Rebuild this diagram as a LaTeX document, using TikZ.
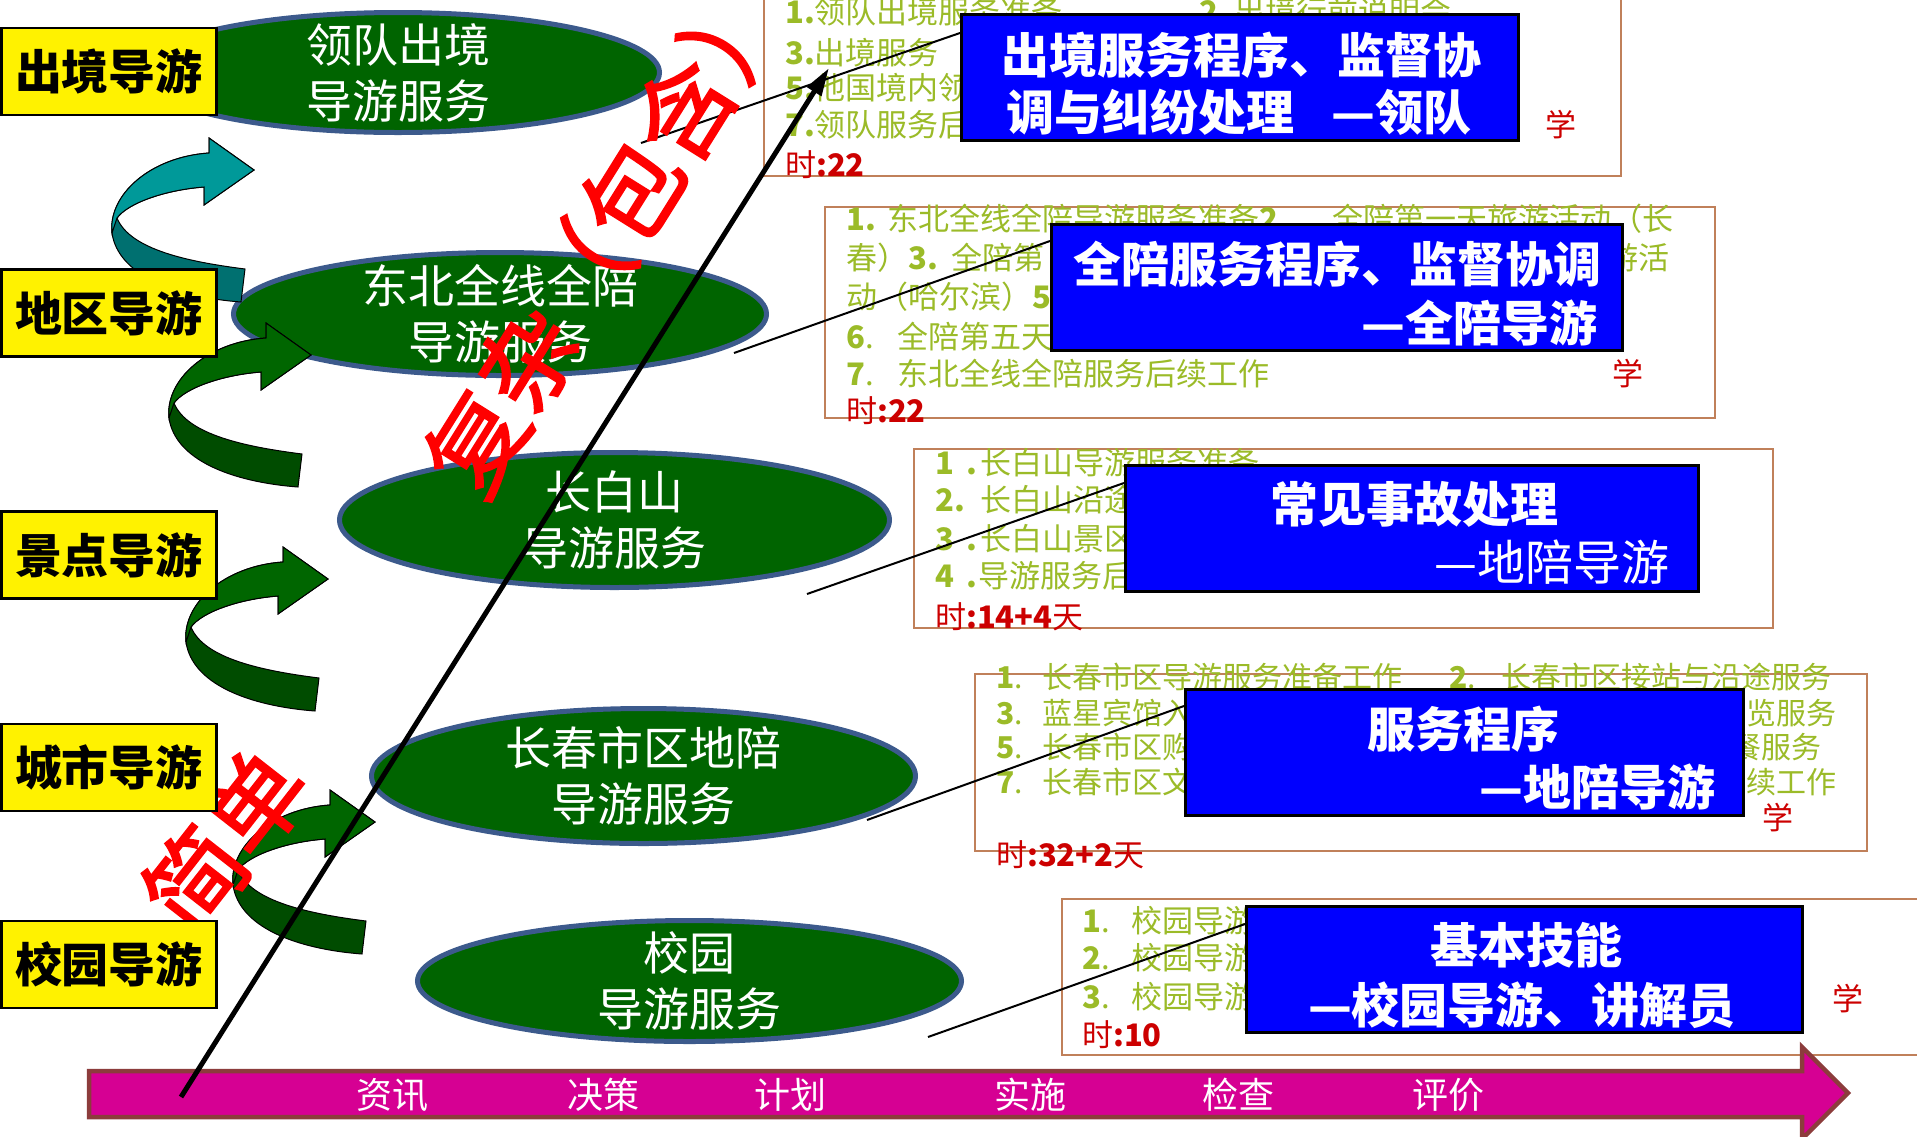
\documentclass[tikz,border=0pt]{standalone}
\usepackage{fontspec}
\usetikzlibrary{shapes.geometric,arrows.meta}
\newfontfamily\cjk{Noto Sans CJK SC}
\newfontfamily\redcjk{Noto Sans CJK SC}[FakeBold=2]
\definecolor{ellgreen}{RGB}{0,100,0}
\definecolor{ellborder}{RGB}{60,90,140}
\definecolor{lgreen}{RGB}{155,187,40}
\definecolor{bordbrown}{RGB}{192,128,90}
\definecolor{pureblue}{RGB}{0,0,255}
\definecolor{txtred}{RGB}{204,0,0}
\definecolor{barfill}{RGB}{214,0,147}
\definecolor{barborder}{RGB}{140,60,60}
\definecolor{tealA}{RGB}{0,153,153}
\definecolor{tealB}{RGB}{0,112,112}
\definecolor{grnA}{RGB}{0,102,0}
\definecolor{grnB}{RGB}{0,76,0}
\newcommand{\fsz}[1]{\fontsize{#1}{#1}\selectfont}
\tikzset{
  pics/curvarr/.style 2 args={code={
    \filldraw[fill=#2, draw=black, line width=1pt]
      (245,269) .. controls (190,262) and (130,250) .. (117,218)
      .. controls (128,203) and (165,190) .. (204,187)
      -- (204,205) -- (254,170) -- (209,138) -- (209,153)
      .. controls (150,157) and (108,195) .. (112,233)
      .. controls (118,275) and (175,297) .. (241,302) -- cycle;
    \filldraw[fill=#1, draw=black, line width=1pt]
      (117,218) .. controls (128,203) and (165,190) .. (204,187)
      -- (204,205) -- (254,170) -- (209,138) -- (209,153)
      .. controls (150,157) and (108,195) .. (112,233) -- cycle;
  }}
}
\begin{document}
\begin{tikzpicture}[x=1pt,y=-1pt,
  ybox/.style={draw=black, line width=2.5pt, fill=yellow, minimum width=215pt, minimum height=87pt, inner sep=0, font=\cjk\bfseries\fsz{47}},
  ell/.style={ellipse, draw=ellborder, line width=5pt, fill=ellgreen, inner sep=0},
  etext/.style={text=white, font=\cjk\fontsize{46}{56}\selectfont, align=center, inner sep=0},
  bbox/.style={draw=bordbrown, line width=2pt, inner sep=0},
  gtext/.style={text=lgreen, font=\cjk\fsz{31}, anchor=west, inner sep=0},
  gtextd/.style={text=lgreen, font=\cjk\fsz{30}, anchor=west, inner sep=0},
  rtxt/.style={text=txtred, font=\cjk\fsz{31}, anchor=west, inner sep=0},
  bluebox/.style={draw=black, line width=3pt, fill=pureblue, inner sep=0},
  wtext/.style={text=white, font=\cjk\bfseries\fsz{48}, inner sep=0},
  wtextn/.style={text=white, font=\cjk\fsz{48}, inner sep=0},
  conn/.style={draw=black, line width=2pt},
  bigred/.style={text=red, font=\redcjk\fsz{98}, inner sep=0},
  bartext/.style={text=white, font=\cjk\fsz{36}, inner sep=0}
]
\useasboundingbox (0,0) rectangle (1917,1136);
\clip (0,0) rectangle (1917,1136);
\fill[white] (0,0) rectangle (1917,1136);

% ellipses
\node[ell, minimum width=523pt, minimum height=120pt] (e1) at (398,72.5) {};
\node[etext] (e1t) at (e1.center) {领队出境\\导游服务};
\node[ell, minimum width=533pt, minimum height=123pt] (e2) at (500,314) {};
\node[etext] (e2t) at (e2.center) {东北全线全陪\\导游服务};
\node[ell, minimum width=550pt, minimum height=135pt] (e3) at (614.5,520) {};
\node[etext] (e3t) at (e3.center) {长白山\\导游服务};
\node[ell, minimum width=544pt, minimum height=135pt] (e4) at (643.5,776) {};
\node[etext] (e4t) at (e4.center) {长春市区地陪\\导游服务};
\node[ell, minimum width=544pt, minimum height=121pt] (e5) at (689.5,981) {};
\node[etext] (e5t) at (e5.center) {校园\\导游服务};

% curved arrows
\pic (ca1) at (0,0) {curvarr={tealA}{tealB}};
\pic (ca2) at (57,185) {curvarr={grnA}{grnB}};
\pic (ca3) at (74,409) {curvarr={grnA}{grnB}};
\pic (ca4) at (121,652) {curvarr={grnA}{grnB}};

% brown text boxes
\node[bbox, minimum width=857pt, minimum height=196pt] (tA) at (1192.5,78) {};
\node[bbox, minimum width=890pt, minimum height=211pt] (tB) at (1270,312.5) {};
\node[bbox, minimum width=859pt, minimum height=179pt] (tC) at (1343.5,538.5) {};
\node[bbox, minimum width=892pt, minimum height=177pt] (tD) at (1421,762.5) {};
\node[bbox, minimum width=873pt, minimum height=156pt] (tE) at (1498.5,977) {};

% box A text
\node[gtext] (a1) at (785,12) {\textbf{1.}领队出境服务准备};
\node[gtext] (a2) at (1199,12) {\textbf{2.}\hspace{6pt}出境行前说明会};
\node[gtext] (a3) at (785,53) {\textbf{3.}出境服务};
\node[gtext] (a5) at (785,88) {\textbf{5.}他国境内领};
\node[gtext] (a7) at (785,125) {\textbf{7.}领队服务后};
\node[rtxt, anchor=center] (ax) at (1561,125) {学};
\node[rtxt] (at) at (785,165) {时\textbf{:22}};

% box B text
\node[gtext] (b1) at (846,219) {\textbf{1.}\hspace{12pt}东北全线全陪导游服务准备\textbf{2}\hspace{54pt}全陪第一天旅游活动（长};
\node[gtext] (b2) at (846,258) {春）\textbf{3.}\hspace{14pt}全陪第};
\node[gtext, anchor=east] (b2r) at (1670,258) {游活};
\node[gtext] (b3) at (846,297) {动（哈尔滨）\textbf{5.}};
\node[gtext] (b6) at (846,337) {\textbf{6}.\hspace{24pt}全陪第五天};
\node[gtext] (b7) at (846,374) {\textbf{7}.\hspace{24pt}东北全线全陪服务后续工作};
\node[rtxt, anchor=center] (bx) at (1628,374) {学};
\node[rtxt] (bt) at (846,411) {时\textbf{:22}};

% box C text
\node[gtext] (c1) at (935,463) {\textbf{1\hspace{12pt}.}\hspace{4pt}长白山导游服务准备};
\node[gtext] (c2) at (935,500) {\textbf{2.}\hspace{16pt}长白山沿途};
\node[gtext] (c3) at (935,539) {\textbf{3\hspace{12pt}.}\hspace{4pt}长白山景区};
\node[gtext] (c4) at (935,576) {\textbf{4\hspace{12pt}.}\hspace{2pt}导游服务后};
\node[rtxt] (ct) at (935,617) {时\textbf{:14+4}天};

% box D text
\node[gtextd] (d1) at (996,677) {\textbf{1}.\hspace{20pt}长春市区导游服务准备工作};
\node[gtextd] (d2) at (1449,677) {\textbf{2}.\hspace{26pt}长春市区接站与沿途服务};
\node[gtextd] (d3) at (996,713) {\textbf{3}.\hspace{20pt}蓝星宾馆入};
\node[gtextd, anchor=east] (d3r) at (1837,713) {游览服务};
\node[gtextd] (d5) at (996,747) {\textbf{5}.\hspace{20pt}长春市区购};
\node[gtextd, anchor=east] (d5r) at (1822,747) {用餐服务};
\node[gtextd] (d7) at (996,782) {\textbf{7}.\hspace{20pt}长春市区文};
\node[gtextd, anchor=east] (d7r) at (1837,782) {后续工作};
\node[rtxt, anchor=center] (dx) at (1778,818) {学};
\node[rtxt] (dt) at (996,855) {时\textbf{:32+2}天};

% box E text
\node[gtext] (g1) at (1082,921) {\textbf{1}.\hspace{22pt}校园导游};
\node[gtext] (g2) at (1082,958) {\textbf{2}.\hspace{22pt}校园导游};
\node[gtext] (g3) at (1082,997) {\textbf{3}.\hspace{22pt}校园导游};
\node[rtxt, anchor=center] (gx) at (1848,999) {学};
\node[rtxt] (gt) at (1082,1035) {时\textbf{:10}};

% connectors
\coordinate (lA0) at (641,143); \coordinate (lA1) at (960,33);
\coordinate (lB0) at (734,353); \coordinate (lB1) at (1050,241);
\coordinate (lC0) at (807,594); \coordinate (lC1) at (1124,483);
\coordinate (lD0) at (867,820); \coordinate (lD1) at (1184,706);
\coordinate (lE0) at (928,1037); \coordinate (lE1) at (1245,924);
\draw[conn] (lA0) -- (lA1);
\draw[conn] (lB0) -- (lB1);
\draw[conn] (lC0) -- (lC1);
\draw[conn] (lD0) -- (lD1);
\draw[conn] (lE0) -- (lE1);

% blue boxes
\node[bluebox, minimum width=557pt, minimum height=126pt] (bA) at (1240,77.5) {};
\node[wtext] (bA1) at (1241,55) {出境服务程序、监督协};
\node[wtext] (bA2) at (1239,112) {调与纠纷处理\hspace{37pt}—领队};
\node[bluebox, minimum width=571pt, minimum height=126pt] (bB) at (1337,287.5) {};
\node[wtext] (bB1) at (1337,264) {全陪服务程序、监督协调};
\node[wtext, anchor=east] (bB2) at (1598,323) {—全陪导游};
\node[bluebox, minimum width=573pt, minimum height=126pt] (bC) at (1412,528.5) {};
\node[wtext] (bC1) at (1414,504) {常见事故处理};
\node[wtextn, anchor=east] (bC2) at (1670,562) {—地陪导游};
\node[bluebox, minimum width=558pt, minimum height=126pt] (bD) at (1464.5,752.5) {};
\node[wtext] (bD1) at (1463,729) {服务程序};
\node[wtext, anchor=east] (bD2) at (1716,787) {—地陪导游};
\node[bluebox, minimum width=556pt, minimum height=126pt] (bE) at (1524.5,969.5) {};
\node[wtext] (bE1) at (1526,945) {基本技能};
\node[wtext] (bE2) at (1522,1005) {—校园导游、讲解员};

% red diagonal words
\node[bigred, rotate=58] (fz) at (606,234) {复杂（包含）};
\node[bigred, rotate=52] (jd) at (225,840) {简单};

% yellow boxes
\node[ybox] (y1) at (109,71.5) {出境导游};
\node[ybox] (y2) at (109,313) {地区导游};
\node[ybox] (y3) at (109,555) {景点导游};
\node[ybox] (y4) at (109,767.5) {城市导游};
\node[ybox] (y5) at (109,964.5) {校园导游};

% bottom bar arrow
\filldraw[fill=barfill, draw=barborder, line width=4.5pt]
  (89,1071) -- (1802,1071) -- (1802,1047) -- (1848,1093) -- (1802,1139) -- (1802,1117) -- (89,1117) -- cycle;
\node[bartext] (s1) at (392,1095) {资讯};
\node[bartext] (s2) at (603,1095) {决策};
\node[bartext] (s3) at (790,1095) {计划};
\node[bartext] (s4) at (1030,1095) {实施};
\node[bartext] (s5) at (1238,1095) {检查};
\node[bartext] (s6) at (1448,1095) {评价};

% thick diagonal arrow
\coordinate (dS) at (181,1097);
\coordinate (dE) at (829,68);
\draw[line width=5pt, -{Triangle[length=28pt,width=16pt]}] (dS) -- (dE);
\end{tikzpicture}
\end{document}
